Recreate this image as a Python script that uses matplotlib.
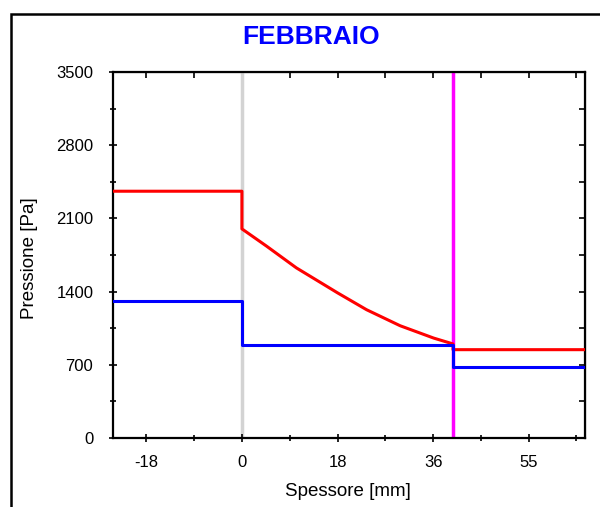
import matplotlib
matplotlib.use("Agg")
import matplotlib.pyplot as plt
from matplotlib.patches import Rectangle
from matplotlib.ticker import MultipleLocator

plt.rcParams['font.family'] = ['Liberation Sans', 'DejaVu Sans']

# profilo di pressione nello spessore della parete
x_min, x_max = -24.65, 65.5
x_strato = 40.3

# pressione di saturazione (rosso)
ps_esterno = 2360
ps_x = [0, 4.7, 10.4, 18.3, 23.8, 30.2, 36.6, 40.3]
ps_y = [2000, 1835, 1627, 1387, 1227, 1074, 956, 900]
ps_interno = 845

# pressione parziale del vapore (blu)
pv_esterno = 1310
pv_parete = 890
pv_interno = 680

x_ticks = [-18.25, 0, 18.25, 36.5, 54.75]
x_labels = ['-18', '0', '18', '36', '55']
y_ticks = [0, 700, 1400, 2100, 2800, 3500]

fig = plt.figure(figsize=(6.0, 5.07), dpi=100)
ax = fig.add_axes([0.188, 0.136, 0.787, 0.722])

# strati
ax.axvline(0, color='#d3d3d3', lw=2.5, zorder=1)
ax.axvline(x_strato, color='#ff00ff', lw=2.5, zorder=1)

rx = [x_min, 0] + ps_x + [x_strato, x_max]
ry = [ps_esterno, ps_esterno] + ps_y + [ps_interno, ps_interno]
ax.plot(rx, ry, color='#ff0000', lw=2.2, zorder=3)

bx = [x_min, 0, 0, x_strato, x_strato, x_max]
by = [pv_esterno, pv_esterno, pv_parete, pv_parete, pv_interno, pv_interno]
ax.plot(bx, by, color='#0000ff', lw=2.2, zorder=4)

ax.set_xlim(x_min, x_max)
ax.set_ylim(0, 3500)
ax.set_xticks(x_ticks)
ax.set_xticklabels(x_labels)
ax.set_yticks(y_ticks)
ax.xaxis.set_minor_locator(MultipleLocator(9.125))
ax.yaxis.set_minor_locator(MultipleLocator(350))

for s in ax.spines.values():
    s.set_linewidth(1.6)
ax.tick_params(which='both', direction='inout', width=1.2, labelsize=12,
               top=False, right=False)
ax.tick_params(which='major', length=6)
ax.tick_params(which='minor', length=4)
ax.tick_params(axis='x', pad=9)
ax.tick_params(axis='y', pad=11)

# tacche interne sui lati superiore e destro
top = ax.secondary_xaxis('top')
top.set_xticks(x_ticks)
top.xaxis.set_minor_locator(MultipleLocator(9.125))
top.tick_params(which='both', direction='in', length=4, width=1.2, labeltop=False)
right = ax.secondary_yaxis('right')
right.set_yticks(y_ticks)
right.yaxis.set_minor_locator(MultipleLocator(350))
right.tick_params(which='both', direction='in', length=4, width=1.2, labelright=False)

fig.text(348 / 600, 1 - 491 / 507, 'Spessore [mm]', fontsize=13.5,
         ha='center', va='center')
fig.text(30 / 600, 1 - 258 / 507, 'Pressione [Pa]', fontsize=13.5,
         rotation=90, ha='center', va='center')
fig.text(311 / 600, 1 - 37 / 507, 'FEBBRAIO', color='#0000ff', fontsize=19,
         fontweight='bold', ha='center', va='center')

# cornice esterna
fig.patches.append(Rectangle((11 / 600, -0.1), 1.2, 1.1 - 14 / 507,
                             transform=fig.transFigure, fill=False,
                             edgecolor='black', lw=1.8))

fig.savefig('out.png', dpi=100)
